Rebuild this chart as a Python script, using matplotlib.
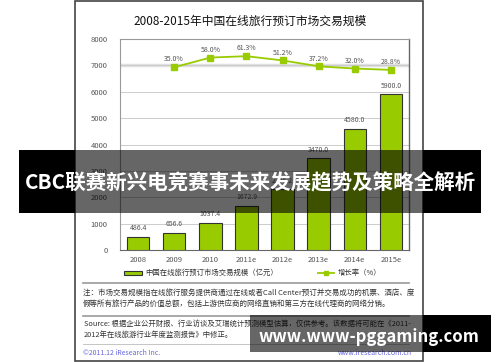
import matplotlib
matplotlib.use("Agg")
import matplotlib.pyplot as plt
from matplotlib.patches import Rectangle
from matplotlib.lines import Line2D

plt.rcParams['font.family'] = ['Noto Sans CJK SC', 'DejaVu Sans']

years = ["2008", "2009", "2010", "2011e", "2012e", "2013e", "2014e", "2015e"]
market_size = [486.4, 656.6, 1037.4, 1672.9, 2295.2, 3470.0, 4580.0, 5900.0]
growth_years = ["2009", "2010", "2011e", "2012e", "2013e", "2014e", "2015e"]
growth_rate = [35.0, 58.0, 61.3, 51.2, 37.2, 32.0, 28.8]

title = "2008-2015年中国在线旅行预订市场交易规模"
bar_label = "中国在线旅行预订市场交易规模（亿元）"
line_label = "增长率（%）"
note_lines = [
    "注：市场交易规模指在线旅行服务提供商通过在线或者Call Center预订并交易成功的机票、酒店、度",
    "假等所有旅行产品的价值总额，包括上游供应商的网络直销和第三方在线代理商的网络分销。",
]
source_lines = [
    "Source: 根据企业公开财报、行业访谈及艾瑞统计预测模型估算，仅供参考。该数据将可能在《2011-",
    "2012年在线旅游行业年度监测报告》中修正。",
]
banner = "CBC联赛新兴电竞赛事未来发展趋势及策略全解析"
watermark = "www.www-pggaming.com"

W, H = 500, 362
green = "#99cc00"
gray_txt = "#555555"


def fx(px):
    return px / W


def fy(py):
    return 1 - py / H


fig = plt.figure(figsize=(5, 3.62), dpi=100)
fig.patch.set_facecolor("white")

# outer frame of the report card
fig.patches.append(Rectangle((fx(75), fy(361)), fx(423) - fx(75), fy(1) - fy(361),
                             transform=fig.transFigure, fill=False,
                             edgecolor="#444444", lw=1.2, zorder=0))

fig.text(0.5, fy(21), title, ha="center", va="center", fontsize=8.5, color="#111111")

ax = fig.add_axes([fx(120), fy(250), fx(289), (211) / H])
x = list(range(len(years)))
ax.bar(x, market_size, width=0.62, color=green, edgecolor="#333333", linewidth=0.8, zorder=3)
for xi, v in zip(x, market_size):
    ax.text(xi, v + 180, f"{v:.1f}", ha="center", va="bottom", fontsize=5, color=gray_txt)

ax.set_xlim(-0.5, len(years) - 0.5)
ax.set_ylim(0, 8000)
ax.set_yticks(range(0, 8001, 1000))
ax.set_xticks(x)
ax.set_xticklabels(years)
ax.tick_params(axis="both", length=0, labelsize=5.5, colors=gray_txt)
ax.tick_params(axis="y", pad=9)
ax.tick_params(axis="x", pad=4)
ax.grid(axis="y", color="#cccccc", lw=0.7, zorder=0)
ax.axhline(7000, color="#e0e0e0", lw=2.5, zorder=1)
for s in ["left", "top"]:
    ax.spines[s].set_color("#999999")
    ax.spines[s].set_linewidth(0.8)
ax.spines["right"].set_color("#666666")
ax.spines["right"].set_linewidth(1.0)
ax.spines["bottom"].set_color("#666666")

ax2 = ax.twinx()
gx = [years.index(g) for g in growth_years]
ax2.plot(gx, growth_rate, color=green, lw=1.3, marker="s", markersize=4, zorder=4)
for xi, v in zip(gx, growth_rate):
    ax2.text(xi, v + 9, f"{v:.1f}%", ha="center", va="bottom", fontsize=5, color=gray_txt)
ax2.set_ylim(-398, 102)
ax2.set_yticks([])
for s in ax2.spines.values():
    s.set_visible(False)

# legend
fig.text(fx(145), fy(273), bar_label, ha="left", va="center", fontsize=5.3, color="#333333")
fig.patches.append(Rectangle((fx(124), fy(275)), fx(18), fy(271) - fy(275),
                             transform=fig.transFigure, facecolor=green,
                             edgecolor="#333333", lw=0.8))
fig.lines.append(Line2D([fx(318), fx(334)], [fy(273), fy(273)], transform=fig.transFigure,
                        color=green, lw=1.3))
fig.lines.append(Line2D([fx(326)], [fy(273)], transform=fig.transFigure,
                        color=green, marker="s", markersize=2.5))
fig.text(fx(338), fy(273), line_label, ha="left", va="center", fontsize=5.3, color="#333333")

# separators and notes
for yy in [283, 316]:
    fig.lines.append(Line2D([fx(83), fx(409)], [fy(yy), fy(yy)], transform=fig.transFigure,
                            color="#999999", lw=1.2))
fig.lines.append(Line2D([fx(83), fx(409)], [fy(344), fy(344)], transform=fig.transFigure,
                        color="#bbbbbb", lw=0.6))
fig.text(fx(83), fy(293), note_lines[0], ha="left", va="center", fontsize=5.4, color="#333333")
fig.text(fx(83), fy(304), note_lines[1], ha="left", va="center", fontsize=5.4, color="#333333")
fig.text(fx(84), fy(324), source_lines[0], ha="left", va="center", fontsize=5.3, color="#333333")
fig.text(fx(84), fy(335), source_lines[1], ha="left", va="center", fontsize=5.3, color="#333333")
fig.text(fx(83), fy(353), "©2011.12 iResearch Inc.", ha="left", va="center", fontsize=5,
         color="#6666dd")
fig.text(fx(412), fy(353), "www.iresearch.com.cn", ha="right", va="center", fontsize=5,
         color="#6666dd")

# banner overlay
fig.patches.append(Rectangle((fx(19), fy(213)), fx(56), fy(150) - fy(213),
                             transform=fig.transFigure, facecolor="black", lw=0, zorder=10))
fig.patches.append(Rectangle((fx(423), fy(213)), fx(58), fy(150) - fy(213),
                             transform=fig.transFigure, facecolor="black", lw=0, zorder=10))
fig.patches.append(Rectangle((fx(75), fy(213)), fx(348), fy(150) - fy(213),
                             transform=fig.transFigure, facecolor="black", alpha=0.6,
                             lw=0, zorder=10))
fig.text(0.5, fy(183), banner, ha="center", va="center", fontsize=14.8, fontweight="bold",
         color="white", zorder=11)

# watermark overlay
fig.patches.append(Rectangle((fx(250), fy(352)), fx(173), fy(315) - fy(352),
                             transform=fig.transFigure, facecolor="black", alpha=0.6,
                             lw=0, zorder=10))
fig.patches.append(Rectangle((fx(423), fy(352)), fx(68), fy(315) - fy(352),
                             transform=fig.transFigure, facecolor="black", lw=0, zorder=10))
fig.text(fx(369), fy(337), watermark, ha="center", va="center", fontsize=12, fontweight="bold",
         color="white", zorder=11)

fig.savefig("out.png", dpi=100)
